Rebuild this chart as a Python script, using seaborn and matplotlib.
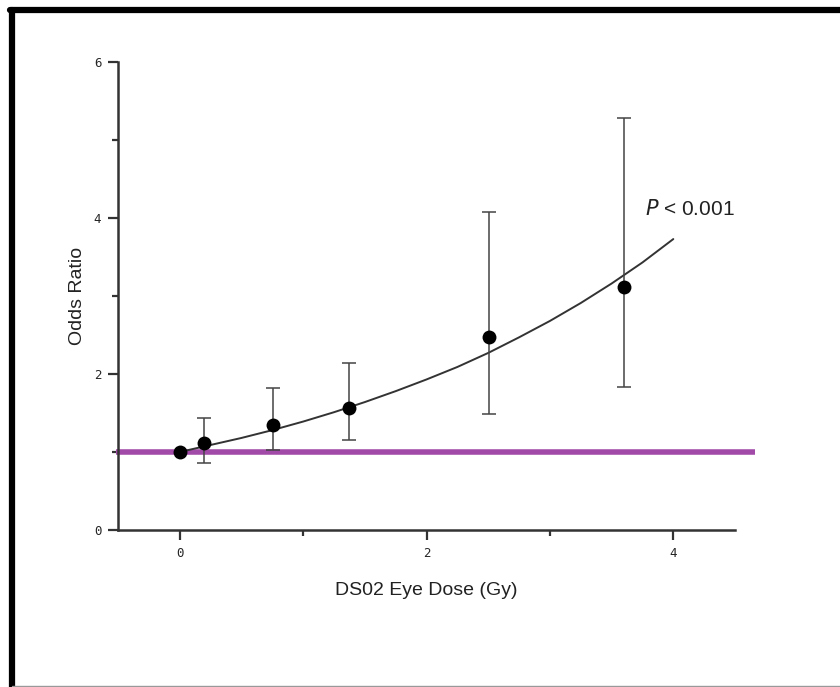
import matplotlib
matplotlib.use("Agg")
import matplotlib.pyplot as plt
import seaborn as sns
import pandas as pd
from matplotlib.lines import Line2D

sns.set_style("white")
plt.rcParams['font.family'] = ['Liberation Sans', 'DejaVu Sans']

# Data
dose = [0.0, 0.2, 0.76, 1.37, 2.51, 3.60]
odds_ratio = [1.0, 1.12, 1.35, 1.56, 2.47, 3.12]
ci_low = [1.0, 0.86, 1.03, 1.15, 1.49, 1.83]
ci_high = [1.0, 1.44, 1.82, 2.14, 4.08, 5.28]

fit_dose = [0.0, 0.25, 0.5, 0.75, 1.0, 1.25, 1.5, 1.75, 2.0, 2.25, 2.5, 2.75,
            3.0, 3.25, 3.5, 3.75, 4.0]
fit_or = [1.00, 1.09, 1.18, 1.28, 1.39, 1.51, 1.64, 1.78, 1.93, 2.09, 2.27, 2.47,
          2.68, 2.91, 3.16, 3.43, 3.73]

x_ticks = [0, 2, 4]
y_ticks = [0, 2, 4, 6]

df = pd.DataFrame({"dose": dose, "or": odds_ratio, "lo": ci_low, "hi": ci_high})
fit = pd.DataFrame({"dose": fit_dose, "or": fit_or})

fig = plt.figure(figsize=(8.4, 6.87), dpi=100)
ax = fig.add_axes([118/840, 1-530/687, (735-118)/840, (530-62)/687])

# reference line at OR = 1
ax.plot([-0.52, 4.66], [1, 1], color="#a24aa8", lw=4, clip_on=False, zorder=2,
        solid_capstyle="butt")

sns.lineplot(data=fit, x="dose", y="or", ax=ax, color="#333333", lw=1.4, zorder=3)

# error bars
for _, r in df.iterrows():
    if r["hi"] > r["lo"]:
        ax.errorbar(r["dose"], r["or"], yerr=[[r["or"] - r["lo"]], [r["hi"] - r["or"]]],
                    fmt="none", ecolor="#444444", elinewidth=1.1, capsize=5, capthick=1.1,
                    zorder=3)

sns.scatterplot(data=df, x="dose", y="or", ax=ax, color="black", s=100,
                edgecolor="black", linewidth=0, zorder=4)

ax.set_xlim(-0.5, 4.5)
ax.set_ylim(0, 6)
ax.set_xticks(x_ticks)
ax.set_xticks([1, 3], minor=True)
ax.set_yticks(y_ticks)
ax.set_yticks([1, 3, 5], minor=True)
ax.set_xticklabels([str(t) for t in x_ticks], family="DejaVu Sans Mono", fontsize=9)
ax.set_yticklabels([str(t) for t in y_ticks], family="DejaVu Sans Mono", fontsize=9)
ax.tick_params(axis="both", which="major", direction="out", length=7, width=1.6,
               color="#333333", pad=5, bottom=True, left=True)
ax.tick_params(axis="both", which="minor", direction="out", length=4, width=1.6,
               color="#333333", bottom=True, left=True)

for side in ["top", "right"]:
    ax.spines[side].set_visible(False)
for side in ["left", "bottom"]:
    ax.spines[side].set_color("#333333")
    ax.spines[side].set_linewidth(1.8)

ax.set_xlabel("DS02 Eye Dose (Gy)", fontsize=14, color="#222222", labelpad=16)
ax.set_ylabel("Odds Ratio", fontsize=14, color="#222222", labelpad=6)

ax.text(3.77, 4.12, "$P$ < 0.001", fontsize=15, color="#222222",
        ha="left", va="center")

# frame around figure
fig.add_artist(Line2D([12/840, 12/840], [0, 1-10/687], transform=fig.transFigure,
                      color="black", lw=4.5))
fig.add_artist(Line2D([10/840, 1], [1-10/687, 1-10/687], transform=fig.transFigure,
                      color="black", lw=4.5))
fig.add_artist(Line2D([12/840, 1], [1/687, 1/687], transform=fig.transFigure,
                      color="#999999", lw=1))

fig.savefig("out.png", dpi=100)
